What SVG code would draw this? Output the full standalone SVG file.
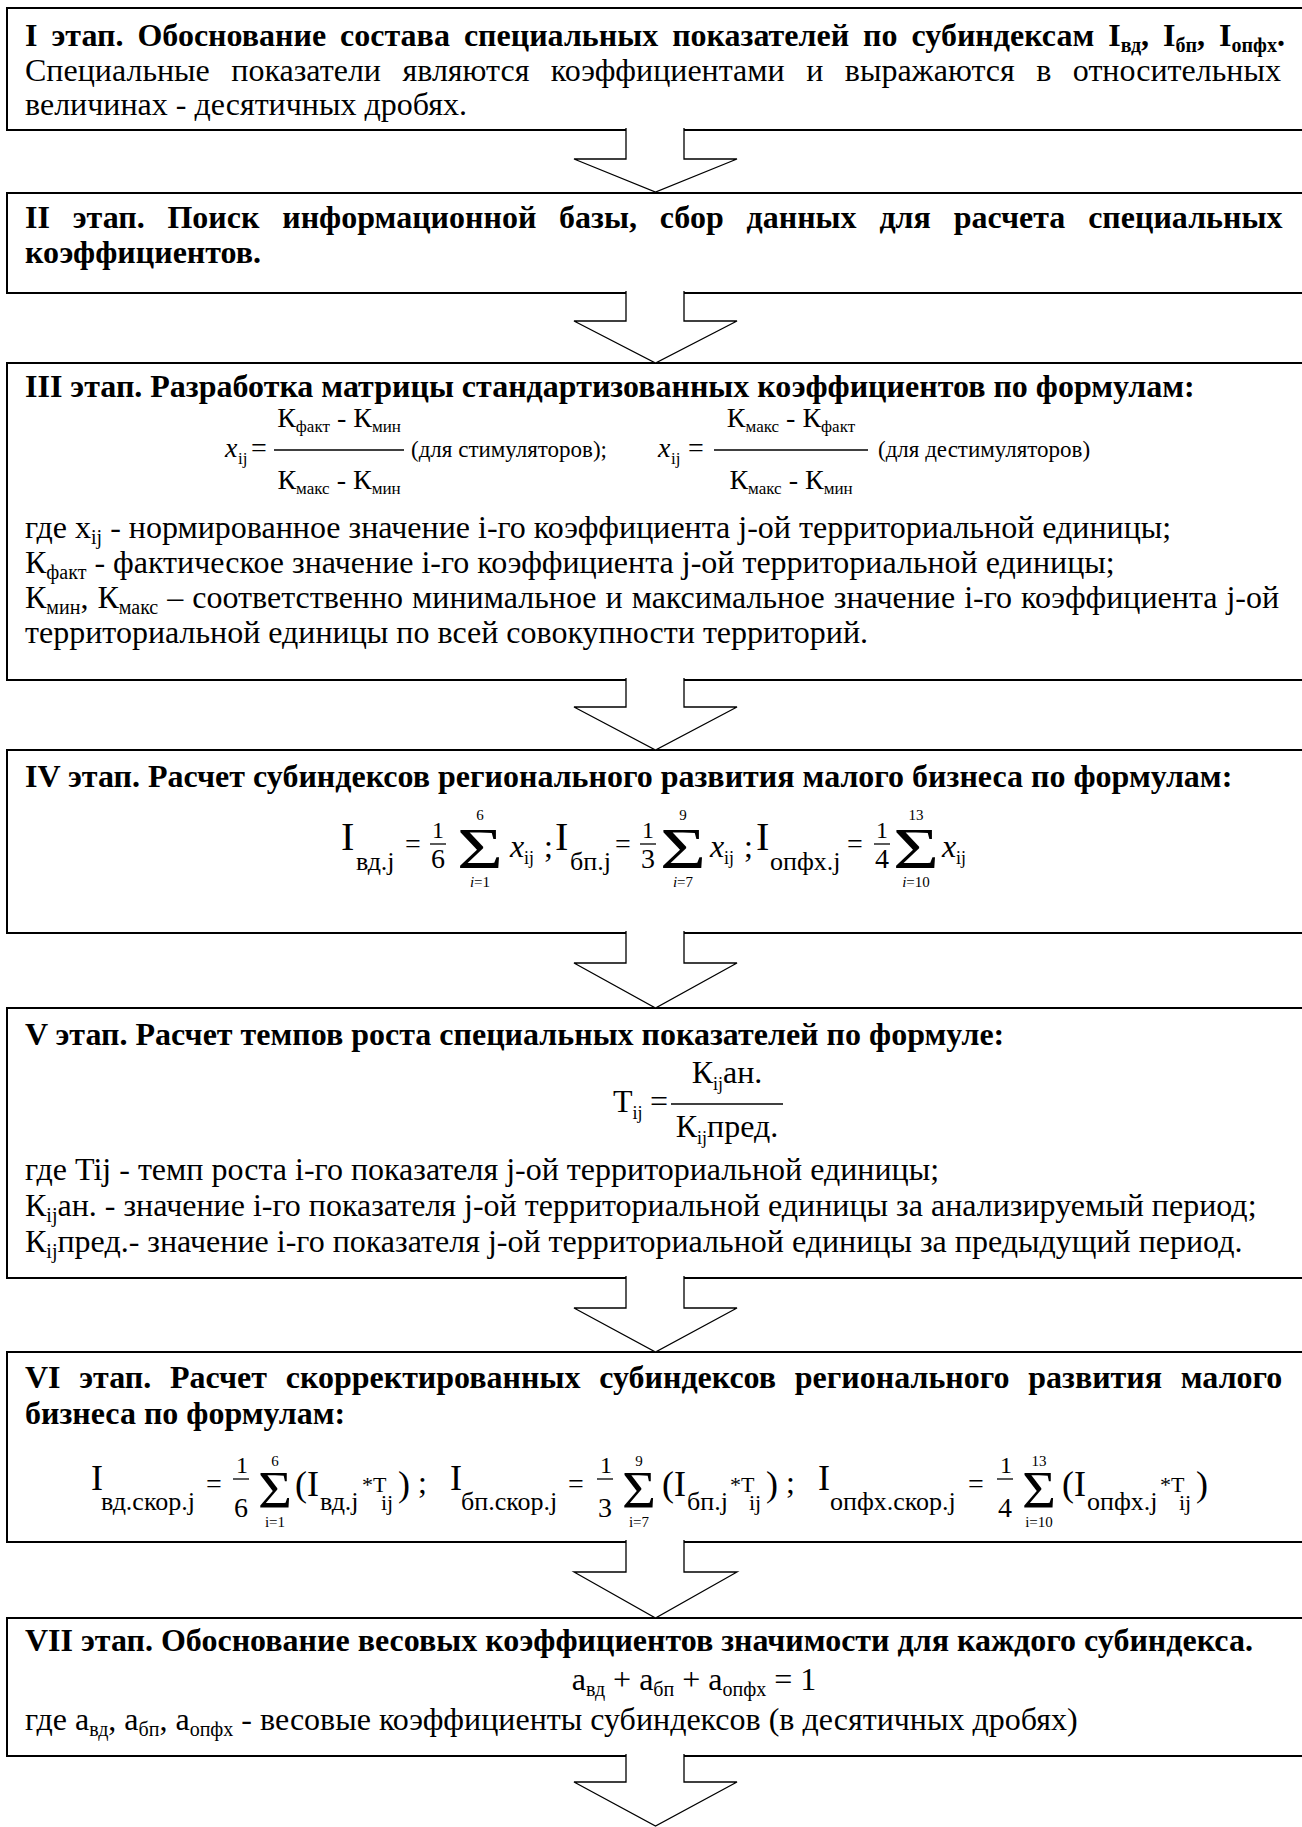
<svg xmlns="http://www.w3.org/2000/svg" width="1302" height="1827" viewBox="0 0 1302 1827">
<defs>
<style>
text{font-family:"Liberation Serif","Times New Roman",serif;font-size:32px;fill:#000}
.b{font-weight:bold}
.s{font-size:20px}
.ss{font-size:17px}
.lim{font-size:15px}
.i{font-style:italic}
.f40{font-size:40px}
.f36{font-size:36px}
.f28{font-size:28px}
.f26{font-size:26px}
.f24{font-size:24px}
.f23{font-size:23px}
.f22{font-size:22px}
.f18{font-size:18px}
.box{fill:#fff;stroke:#000;stroke-width:2}
.arr{fill:#fff;stroke:#000;stroke-width:1.3}
.bar{stroke:#000;stroke-width:1.3}
.m{text-anchor:middle}
</style>
</defs>
<rect width="1302" height="1827" fill="#fff"/>

<g id="stage1">
<rect class="box" x="7" y="8" width="1320" height="122"/>
<text class="b" x="25" y="46" word-spacing="6">I этап. Обоснование состава специальных показателей по субиндексам I<tspan class="s" dy="6">вд</tspan><tspan dy="-6">, I</tspan><tspan class="s" dy="6">бп</tspan><tspan dy="-6">, I</tspan><tspan class="s" dy="6">опфх</tspan><tspan dy="-6">.</tspan></text>
<text x="25" y="81" word-spacing="13.5">Специальные показатели являются коэффициентами и выражаются в относительных</text>
<text x="25" y="115">величинах - десятичных дробях.</text>
</g>

<g id="stage2">
<rect class="box" x="7" y="193" width="1320" height="100"/>
<text class="b" x="25" y="228" word-spacing="14.8">II этап. Поиск информационной базы, сбор данных для расчета специальных</text>
<text class="b" x="25" y="263">коэффициентов.</text>
</g>

<g id="stage3">
<rect class="box" x="7" y="363" width="1320" height="317"/>
<text class="b" x="25" y="397">III этап. Разработка матрицы стандартизованных коэффициентов по формулам:</text>
<text class="i f28" x="225" y="457">x</text><text class="ss" x="238" y="464">ij</text>
<text class="f28" x="251" y="457">=</text>
<line class="bar" x1="274" y1="450" x2="404" y2="450"/>
<text class="f28 m" x="339" y="427">К<tspan class="ss" dy="5">факт</tspan><tspan dy="-5"> - К</tspan><tspan class="ss" dy="5">мин</tspan></text>
<text class="f28 m" x="339" y="489">К<tspan class="ss" dy="5">макс</tspan><tspan dy="-5"> - К</tspan><tspan class="ss" dy="5">мин</tspan></text>
<text class="f23" x="411" y="457">(для стимуляторов);</text>
<text class="i f28" x="658" y="457">x</text><text class="ss" x="671" y="464">ij</text>
<text class="f28" x="688" y="457">=</text>
<line class="bar" x1="714" y1="450" x2="868" y2="450"/>
<text class="f28 m" x="791" y="427">К<tspan class="ss" dy="5">макс</tspan><tspan dy="-5"> - К</tspan><tspan class="ss" dy="5">факт</tspan></text>
<text class="f28 m" x="791" y="489">К<tspan class="ss" dy="5">макс</tspan><tspan dy="-5"> - К</tspan><tspan class="ss" dy="5">мин</tspan></text>
<text class="f23" x="878" y="457">(для дестимуляторов)</text>
<text x="25" y="538">где x<tspan class="s" dy="6">ij</tspan><tspan dy="-6"> - нормированное значение i-го коэффициента j-ой территориальной единицы;</tspan></text>
<text x="25" y="573">К<tspan class="s" dy="6">факт</tspan><tspan dy="-6"> - фактическое значение i-го коэффициента j-ой территориальной единицы;</tspan></text>
<text x="25" y="608" word-spacing="1">К<tspan class="s" dy="6">мин</tspan><tspan dy="-6">, К</tspan><tspan class="s" dy="6">макс</tspan><tspan dy="-6"> – соответственно минимальное и максимальное значение i-го коэффициента j-ой</tspan></text>
<text x="25" y="643">территориальной единицы по всей совокупности территорий.</text>
</g>

<g id="stage4">
<rect class="box" x="7" y="750" width="1320" height="183"/>
<text class="b" x="25" y="787">IV этап. Расчет субиндексов регионального развития малого бизнеса по формулам:</text>
<text class="f40" x="341" y="850">I</text><text class="f26" x="356" y="870">вд.j</text>
<text class="f28" x="405" y="853">=</text>
<text class="f24" x="432" y="838">1</text><line class="bar" x1="430" y1="844" x2="446" y2="844"/><text class="f28" x="431" y="868">6</text>
<text x="457" y="868" style="font-size:58px" textLength="46" lengthAdjust="spacingAndGlyphs">Σ</text>
<text class="lim m" x="480" y="820">6</text><text class="lim m" x="480" y="887"><tspan class="i">i</tspan>=1</text>
<text class="i" x="510" y="857">x</text><text class="f18" x="524" y="864">ij</text>
<text x="544" y="857">;</text>

<text class="f40" x="555" y="850">I</text><text class="f26" x="570" y="870">бп.j</text>
<text class="f28" x="615" y="853">=</text>
<text class="f24" x="642" y="838">1</text><line class="bar" x1="640" y1="844" x2="656" y2="844"/><text class="f28" x="641" y="868">3</text>
<text x="660" y="868" style="font-size:58px" textLength="46" lengthAdjust="spacingAndGlyphs">Σ</text>
<text class="lim m" x="683" y="820">9</text><text class="lim m" x="683" y="887"><tspan class="i">i</tspan>=7</text>
<text class="i" x="710" y="857">x</text><text class="f18" x="724" y="864">ij</text>
<text x="744" y="857">;</text>

<text class="f40" x="756" y="850">I</text><text class="f26" x="770" y="870">опфх.j</text>
<text class="f28" x="847" y="853">=</text>
<text class="f24" x="876" y="838">1</text><line class="bar" x1="874" y1="844" x2="890" y2="844"/><text class="f28" x="875" y="868">4</text>
<text x="893" y="868" style="font-size:58px" textLength="46" lengthAdjust="spacingAndGlyphs">Σ</text>
<text class="lim m" x="916" y="820">13</text><text class="lim m" x="916" y="887"><tspan class="i">i</tspan>=10</text>
<text class="i" x="942" y="857">x</text><text class="f18" x="956" y="864">ij</text>
</g>

<g id="stage5">
<rect class="box" x="7" y="1008" width="1320" height="270"/>
<text class="b" x="25" y="1045">V этап. Расчет темпов роста специальных показателей по формуле:</text>
<text x="613" y="1112">Т<tspan class="f18" dy="7">ij</tspan></text>
<text x="650" y="1112">=</text>
<line class="bar" x1="671" y1="1104" x2="783" y2="1104"/>
<text class="m" x="727" y="1083">К<tspan class="f18" dy="7">ij</tspan><tspan dy="-7">ан.</tspan></text>
<text class="m" x="727" y="1137">К<tspan class="f18" dy="7">ij</tspan><tspan dy="-7">пред.</tspan></text>
<text x="25" y="1180">где Tij - темп роста i-го показателя j-ой территориальной единицы;</text>
<text x="25" y="1216">К<tspan class="s" dy="6">ij</tspan><tspan dy="-6">ан. - значение i-го показателя j-ой территориальной единицы за анализируемый период;</tspan></text>
<text x="25" y="1252">К<tspan class="s" dy="6">ij</tspan><tspan dy="-6">пред.- значение i-го показателя j-ой территориальной единицы за предыдущий период.</tspan></text>
</g>

<g id="stage6">
<rect class="box" x="7" y="1352" width="1320" height="190"/>
<text class="b" x="25" y="1388" word-spacing="10.7">VI этап. Расчет скорректированных субиндексов регионального развития малого</text>
<text class="b" x="25" y="1424">бизнеса по формулам:</text>
<text class="f36" x="91" y="1490">I</text><text class="f26" x="101" y="1510">вд.скор.j</text>
<text class="f28" x="206" y="1493">=</text>
<text class="f24" x="236" y="1473">1</text><line class="bar" x1="233" y1="1479" x2="249" y2="1479"/><text class="f28" x="234" y="1517">6</text>
<text x="258" y="1508" style="font-size:52px" textLength="34" lengthAdjust="spacingAndGlyphs">Σ</text>
<text class="lim m" x="275" y="1466">6</text><text class="lim m" x="275" y="1527">i=1</text>
<text class="f36" x="295" y="1496">(I</text><text class="f26" x="320" y="1510">вд.j</text>
<text class="f22" x="362" y="1492">*Т</text><text class="f22" x="381" y="1510">ij</text>
<text class="f36" x="398" y="1496">)</text><text x="418" y="1493">;</text>

<text class="f36" x="450" y="1490">I</text><text class="f26" x="461" y="1510">бп.скор.j</text>
<text class="f28" x="568" y="1493">=</text>
<text class="f24" x="600" y="1473">1</text><line class="bar" x1="597" y1="1479" x2="613" y2="1479"/><text class="f28" x="598" y="1517">3</text>
<text x="622" y="1508" style="font-size:52px" textLength="34" lengthAdjust="spacingAndGlyphs">Σ</text>
<text class="lim m" x="639" y="1466">9</text><text class="lim m" x="639" y="1527">i=7</text>
<text class="f36" x="662" y="1496">(I</text><text class="f26" x="687" y="1510">бп.j</text>
<text class="f22" x="730" y="1492">*Т</text><text class="f22" x="749" y="1510">ij</text>
<text class="f36" x="766" y="1496">)</text><text x="786" y="1493">;</text>

<text class="f36" x="818" y="1490">I</text><text class="f26" x="830" y="1510">опфх.скор.j</text>
<text class="f28" x="968" y="1493">=</text>
<text class="f24" x="1000" y="1473">1</text><line class="bar" x1="997" y1="1479" x2="1013" y2="1479"/><text class="f28" x="998" y="1517">4</text>
<text x="1022" y="1508" style="font-size:52px" textLength="34" lengthAdjust="spacingAndGlyphs">Σ</text>
<text class="lim m" x="1039" y="1466">13</text><text class="lim m" x="1039" y="1527">i=10</text>
<text class="f36" x="1062" y="1496">(I</text><text class="f26" x="1087" y="1510">опфх.j</text>
<text class="f22" x="1160" y="1492">*Т</text><text class="f22" x="1179" y="1510">ij</text>
<text class="f36" x="1196" y="1496">)</text>
</g>

<g id="stage7">
<rect class="box" x="7" y="1618" width="1320" height="138"/>
<text class="b" x="25" y="1651">VII этап. Обоснование весовых коэффициентов значимости для каждого субиндекса.</text>
<text class="m" x="694" y="1690">а<tspan class="s" dy="6">вд</tspan><tspan dy="-6"> + а</tspan><tspan class="s" dy="6">бп</tspan><tspan dy="-6"> + а</tspan><tspan class="s" dy="6">опфх</tspan><tspan dy="-6"> = 1</tspan></text>
<text x="25" y="1730">где а<tspan class="s" dy="6">вд</tspan><tspan dy="-6">, а</tspan><tspan class="s" dy="6">бп</tspan><tspan dy="-6">, а</tspan><tspan class="s" dy="6">опфх</tspan><tspan dy="-6"> - весовые коэффициенты субиндексов (в десятичных дробях)</tspan></text>
</g>

<g id="connectors">
<path class="arr" d="M626,128 V159 H574 L655.5,192 L737,159 H684 V128"/>
<path class="arr" d="M626,291 V321 H574 L655.5,363 L737,321 H684 V291"/>
<path class="arr" d="M626,678 V707 H574 L655.5,750 L737,707 H684 V678"/>
<path class="arr" d="M626,931 V963 H574 L655.5,1008 L737,963 H684 V931"/>
<path class="arr" d="M626,1276 V1308 H574 L655.5,1352 L737,1308 H684 V1276"/>
<path class="arr" d="M626,1540 V1572 H574 L655.5,1618 L737,1572 H684 V1540"/>
<path class="arr" d="M626,1754 V1782 H574 L655.5,1826 L737,1782 H684 V1754"/>
</g>
</svg>
